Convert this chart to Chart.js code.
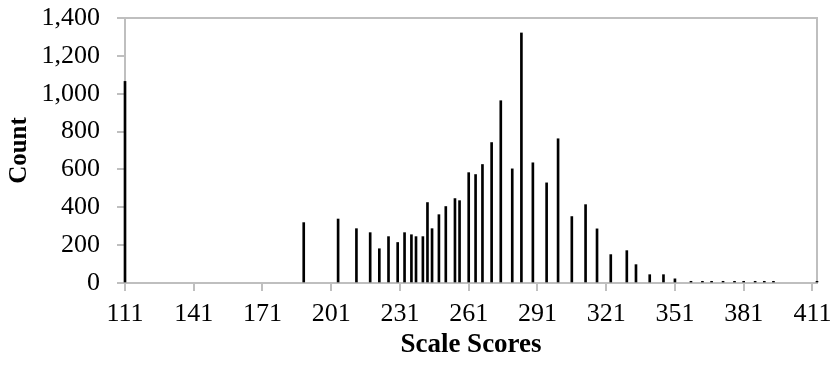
<!DOCTYPE html>
<html>
<head>
<meta charset="utf-8">
<script src="https://cdn.jsdelivr.net/npm/chart.js@4/dist/chart.umd.min.js"></script>
<style>
html,body{margin:0;padding:0;background:#fff;}
#wrap{width:832px;height:366px;}
</style>
</head>
<body>
<div id="wrap"><canvas id="c" width="832" height="366"></canvas></div>
<script>
const scores = [111,189,204,212,218,222,226,230,233,236,238,241,243,245,248,251,255,257,261,264,267,271,275,280,284,289,295,300,306,312,317,323,330,334,340,346,351,358,363,367,372,377,381,386,390,394,413];
const counts = [1065,319,338,287,266,181,245,214,266,255,245,245,425,287,361,404,446,435,583,573,626,742,963,603,1321,635,529,762,351,414,286,150,171,97,44,44,22,9,9,9,9,9,9,9,9,9,9];
const xTickValues = [111,141,171,201,231,261,291,321,351,381,411];
const yTickValues = [0,200,400,600,800,1000,1200,1400];
const xMin = 111, xMax = 413;
const yMin = 0, yMax = 1400;

const GRAY = '#bfbfbf';
const FONT = 'Liberation Serif, "Times New Roman", serif';

const framePlugin = {
  id: 'frame',
  beforeDatasetsDraw(chart) {
    const a = chart.chartArea, ctx = chart.ctx;
    ctx.save();
    ctx.strokeStyle = GRAY;
    ctx.lineWidth = 2;
    ctx.beginPath();
    ctx.moveTo(a.left, a.top);
    ctx.lineTo(a.right, a.top);
    ctx.lineTo(a.right, a.bottom);
    ctx.stroke();
    ctx.restore();
  }
};

new Chart(document.getElementById('c'), {
  type: 'bar',
  data: {
    datasets: [{
      data: scores.map((s, i) => ({x: s, y: counts[i]})),
      backgroundColor: '#000',
      borderWidth: 0,
      barThickness: 2,
      clip: false
    }]
  },
  options: {
    responsive: false,
    animation: false,
    layout: {padding: {top: 18, right: 15, left: 0, bottom: 0}},
    plugins: {legend: {display: false}, tooltip: {enabled: false}},
    scales: {
      x: {
        type: 'linear',
        min: xMin, max: xMax,
        offset: false,
        afterBuildTicks(s) { s.ticks = xTickValues.map(v => ({value: v})); },
        afterFit(s) { s.height = 83; s.paddingLeft = 0; s.paddingRight = 0; },
        grid: {offset: false, drawOnChartArea: false, drawTicks: true, tickLength: 8, color: GRAY, lineWidth: 2},
        border: {display: true, color: GRAY, width: 2},
        ticks: {autoSkip: false, maxRotation: 0, minRotation: 0, padding: 8, color: '#000',
                 font: {family: FONT, size: 26}},
        title: {display: true, text: 'Scale Scores', color: '#000',
                font: {family: FONT, size: 27, weight: 'bold'}, padding: {top: 0, bottom: 5}}
      },
      y: {
        type: 'linear',
        min: yMin, max: yMax,
        afterBuildTicks(s) { s.ticks = yTickValues.map(v => ({value: v})); },
        afterFit(s) { s.width = 125; s.paddingTop = 0; s.paddingBottom = 0; },
        grid: {drawOnChartArea: false, drawTicks: true, tickLength: 8, color: GRAY, lineWidth: 2},
        border: {display: true, color: GRAY, width: 2},
        ticks: {padding: 17, color: '#000', font: {family: FONT, size: 26},
                callback: v => Number(v).toLocaleString('en-US')},
        title: {display: true, text: 'Count', color: '#000',
                font: {family: FONT, size: 25, weight: 'bold'}, padding: {top: 5, bottom: 0}}
      }
    }
  },
  plugins: [framePlugin]
});
</script>
</body>
</html>
